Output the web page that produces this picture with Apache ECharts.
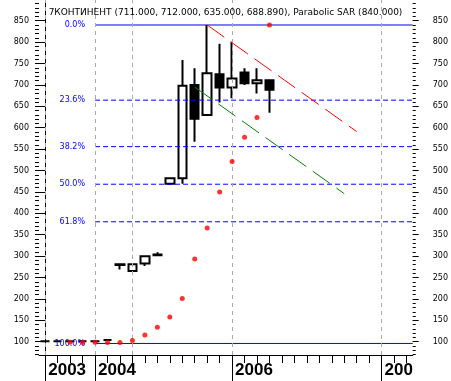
<!DOCTYPE html>
<html>
<head>
<meta charset="utf-8">
<script src="https://cdn.jsdelivr.net/npm/echarts@6/dist/echarts.min.js"></script>
<style>html,body{margin:0;padding:0;background:#fff}#c{width:451px;height:381px}</style>
</head>
<body>
<div id="c"></div>
<script>
// ---- data ----
const categories = ['2003-01','2003-04','2003-07','2003-10','2004-01','2004-05','2004-09',
  '2005-01','2005-02','2005-03','2005-04','2005-06','2005-08','2005-10','2005-11',
  '2006-01','2006-02','2006-03','2006-04','2006-05','2006-06','2006-07','2006-08','2006-09',
  '2006-10','2006-11','2006-12','2007-01','2007-02','2007-03'];
const opens  = [101, 101, 101, 101, 101, 104, 281, 265, 283, 304, 469, 482, 700, 630, 725, 694, 729, 704, 711];
const closes = [101, 101, 101, 101, 101, 104, 279.5, 281, 300, 302, 482, 698, 621, 727, 694, 715, 704, 711, 688.89];
const lows   = [101, 101, 101, 101, 101, 103, 269, 264, 277, 301, 466, 469, 567, 629, 659, 669, 700, 680, 635];
const highs  = [101, 101, 101, 101, 101, 105, 281, 282, 300, 309, 483, 758, 739, 840, 796, 801, 739, 739, 712];
const sarIdx = [2, 3, 4, 5, 6, 7, 8, 9, 10, 11, 12, 13, 14, 15, 16, 17, 18];
const sarVal = [99, 98, 99, 98, 98, 103, 116, 134, 158, 201, 293, 366, 450, 521, 578, 624, 840];
const fibHigh = 840, fibLow = 96;
const fibRatios = [0, 0.236, 0.382, 0.5, 0.618, 1];
const fibLabels = ['0.0%', '23.6%', '38.2%', '50.0%', '61.8%', '100.0%'];
const fibStartIdx = 4;
const redTrend = [[13, 840], [25, 591]];
const greenTrend = [[12, 695], [24, 446]];
const yTickLabels = [100, 150, 200, 250, 300, 350, 400, 450, 500, 550, 600, 650, 700, 750, 800, 850];
const yearTickIdx = [0, 4, 15, 27];
const yearLabels = ['2003', '2004', '2006', '200'];
const gridLineIdx = [0, 4, 7, 15, 27];
const titleText = '7КОНТИНЕНТ (711.000, 712.000, 635.000, 688.890), Parabolic SAR (840.000)';

// ---- chart ----
const Y_MIN = 69, Y_MAX = 898.4;
const yMinor = [];
for (let v = 70; v <= 890; v += 10) yMinor.push(v);

const candleData = opens.map((o, i) => [o, closes[i], lows[i], highs[i]]);
const axisFont = {fontFamily: 'DejaVu Sans', fontSize: 8, color: '#000'};

const fibSeries = fibRatios.map((r, k) => {
  const lvl = fibHigh - (fibHigh - fibLow) * r;
  const solid = (r === 0 || r === 1);
  return {
    type: 'line', xAxisIndex: 2, yAxisIndex: 0, z: 4, silent: true,
    symbol: 'circle', symbolSize: 0.1, showSymbol: true,
    lineStyle: {color: '#0000ff', width: 1, type: solid ? 'solid' : [5, 3]},
    itemStyle: {color: '#0000ff'},
    data: [
      {value: [fibStartIdx, lvl], label: {show: true, position: 'left', distance: 10,
        formatter: fibLabels[k], color: '#0000ff', fontFamily: 'DejaVu Sans', fontSize: 8}},
      {value: [29.5, lvl], label: {show: false}}
    ]
  };
});

const trendSeries = [[redTrend, '#ff0000'], [greenTrend, '#008000']].map(([d, c]) => ({
  type: 'line', xAxisIndex: 2, yAxisIndex: 0, z: 5, silent: true, symbol: 'none',
  lineStyle: {color: c, width: 1, type: [21, 8]}, data: d
}));

const option = {
  animation: false,
  title: {text: titleText, left: 'center', top: 3,
    textStyle: {fontFamily: 'DejaVu Sans', fontSize: 9, fontWeight: 'normal', color: '#000'}},
  grid: {left: 39, right: 38, top: 0, bottom: 26, containLabel: false},
  xAxis: [
    {type: 'category', data: categories, position: 'bottom', boundaryGap: true,
      axisLine: {show: true, lineStyle: {color: '#000', width: 1}},
      axisTick: {show: true, alignWithLabel: true, interval: 0, length: 8, lineStyle: {color: '#000'}},
      axisLabel: {show: false}, splitLine: {show: false}},
    {type: 'category', data: categories, position: 'bottom', offset: 0, boundaryGap: true,
      axisLine: {show: false},
      axisTick: {show: true, alignWithLabel: true, length: 26,
        interval: (i) => yearTickIdx.indexOf(i) >= 0, lineStyle: {color: '#000', width: 1}},
      axisLabel: {show: true, interval: (i) => yearTickIdx.indexOf(i) >= 0,
        formatter: (v, i) => yearLabels[yearTickIdx.indexOf(i)] || '',
        align: 'left', padding: [0, 0, 0, 3], margin: 7,
        fontFamily: 'Liberation Sans', fontWeight: 'bold', fontSize: 17, color: '#000'},
      splitLine: {show: false}},
    {type: 'value', min: -0.5, max: 29.5, show: false}
  ],
  yAxis: [
    {type: 'value', min: Y_MIN, max: Y_MAX, position: 'left',
      axisLine: {show: true, lineStyle: {color: '#000', width: 1}},
      axisTick: {show: true, customValues: yTickLabels, length: 7, lineStyle: {color: '#000'}},
      axisLabel: Object.assign({show: true, customValues: yTickLabels, margin: 10, padding: [4, 0, 0, 0]}, axisFont),
      splitLine: {show: false}},
    {type: 'value', min: Y_MIN, max: Y_MAX, position: 'left', offset: 0,
      axisLine: {show: false},
      axisTick: {show: true, customValues: yMinor, length: 4, lineStyle: {color: '#000'}},
      axisLabel: {show: false}, splitLine: {show: false}},
    {type: 'value', min: Y_MIN, max: Y_MAX, position: 'right', offset: 0,
      axisLine: {show: false},
      axisTick: {show: true, customValues: yTickLabels, length: 6, lineStyle: {color: '#000'}},
      axisLabel: Object.assign({show: true, customValues: yTickLabels, margin: 20, padding: [4, 0, 0, 0]}, axisFont),
      splitLine: {show: false}},
    {type: 'value', min: Y_MIN, max: Y_MAX, position: 'right', offset: 0,
      axisLine: {show: false},
      axisTick: {show: true, customValues: yMinor, length: 3, lineStyle: {color: '#000'}},
      axisLabel: {show: false}, splitLine: {show: false}}
  ],
  series: [
    {type: 'line', xAxisIndex: 2, yAxisIndex: 0, z: 1, silent: true, data: [],
      markLine: {silent: true, symbol: ['none', 'none'], label: {show: false},
        lineStyle: {color: '#aaaaaa', type: [4, 4], width: 1},
        data: gridLineIdx.map(i => ({xAxis: i}))}},
    {type: 'candlestick', xAxisIndex: 0, yAxisIndex: 0, z: 3, barWidth: 9, silent: true,
      itemStyle: {color: '#ffffff', color0: '#000000', borderColor: '#000000',
        borderColor0: '#000000', borderColorDoji: '#000000', borderWidth: 2},
      data: candleData},
    ...fibSeries,
    ...trendSeries,
    {type: 'scatter', xAxisIndex: 0, yAxisIndex: 0, z: 6, silent: true, symbol: 'circle', symbolSize: 5,
      itemStyle: {color: '#ff0000'},
      data: sarIdx.map((i, k) => [i, sarVal[k]])}
  ]
};
const chart = echarts.init(document.getElementById('c'), null, {renderer: 'canvas'});
chart.setOption(option);
</script>
</body>
</html>
